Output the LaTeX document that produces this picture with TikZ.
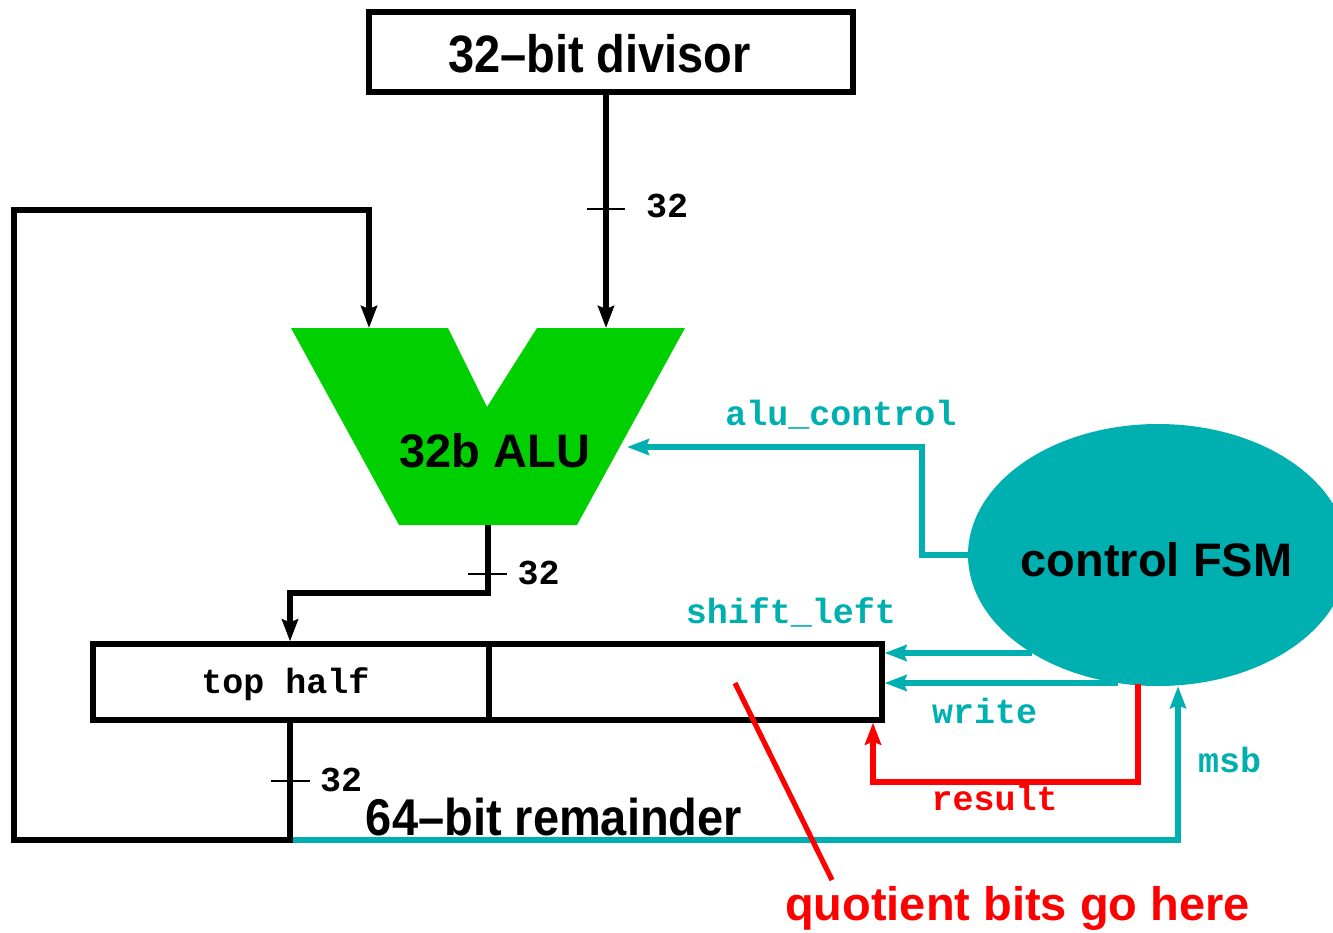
\documentclass[tikz,border=0pt]{standalone}
\usepackage{graphicx}
\usepackage{fontspec}
\setmainfont{Liberation Sans}
\setmonofont{Liberation Mono}
\usetikzlibrary{arrows.meta,shapes.geometric}
\definecolor{aluGreen}{RGB}{0,208,0}
\definecolor{fsmCyan}{RGB}{0,175,175}
\definecolor{qRed}{RGB}{255,0,0}
\begin{document}
\begin{tikzpicture}[x=1pt,y=-1pt,
  wire/.style={line width=5.2pt, line join=miter},
  arr/.style={-{Stealth[length=22pt,width=16pt,inset=3pt]}},
  tickmark/.style={line width=2.2pt},
  bigtxt/.style={font=\fontsize{47}{52}\selectfont\bfseries, inner sep=0pt, anchor=base},
  montxt/.style={font=\fontsize{35}{38}\selectfont\ttfamily\bfseries, inner sep=0pt, anchor=base},
  regbox/.style={draw, line width=5.2pt, minimum height=76, inner sep=0pt},
]
\useasboundingbox (0,0) rectangle (1333,932);
\clip (0,0) rectangle (1333,932);

% divisor
\node[draw, line width=5.2pt, minimum width=484, minimum height=80, inner sep=0pt] (div) at (611,52) {};
\node[bigtxt] (divt) at (599.5,72) {\scalebox{1}[1.12]{32–bit divisor}};

% ALU
\fill[aluGreen] (291,328) -- (448,328) -- (487,407) -- (537,328) -- (685,328) -- (577,525) -- (399,525) -- cycle;
\node[bigtxt] (alu) at (495,467) {32b ALU};
\coordinate (aluA) at (369,328);
\coordinate (aluB) at (606,328);
\coordinate (aluO) at (488,525);
\coordinate (aluC) at (627,447);

% register
\node[regbox, minimum width=396] (top) at (291,682) {};
\node[regbox, minimum width=393] (bot) at (685.5,682) {};
\node[montxt] (topt) at (285.5,693) {top half};

% FSM
\node[ellipse, fill=fsmCyan, minimum width=380, minimum height=262, inner sep=0pt] (fsm) at (1158,555) {};
\node[bigtxt] (fsmt) at (1156.5,576) {control FSM};

% coordinates
\coordinate (rq) at (290,840);
\coordinate (msbC) at (1178,840);
\coordinate (slS) at (1032,653);
\coordinate (wrS) at (1118,683);
\coordinate (rsS) at (1138,684);
\coordinate (rsC) at (873,782);
\coordinate (qA) at (735,683);
\coordinate (qB) at (832,880);

% cyan connections
\draw[wire, fsmCyan, arr] (rq) -- (msbC) -- (msbC |- fsm.south);
\draw[wire, fsmCyan, arr] (fsm.west) -- (922,555) -- (922,447) -- (aluC);
\draw[wire, fsmCyan, arr] (slS) -- (bot.east |- slS);
\draw[wire, fsmCyan, arr] (wrS) -- (bot.east |- wrS);

% red result
\draw[wire, qRed, arr] (rsS) -- (rsS |- rsC) -- (rsC) -- (rsC |- bot.south);

% black connections
\draw[wire, arr] (div.south -| aluB) -- (aluB);
\draw[tickmark] (587,209) -- (625,209);
\node[montxt] (n32a) at (667,217) {32};

\draw[wire, arr] (top.south -| rq) -- (rq) -- (14,840) -- (14,210) -- (369,210) -- (aluA);

\draw[wire, arr] (aluO) -- (488,593) -- (290,593) -- (top.north -| rq);
\draw[tickmark] (468,574) -- (507,574);
\node[montxt] (n32b) at (538.5,584) {32};

\draw[tickmark] (271,781) -- (310,781);
\node[montxt] (n32c) at (341,791) {32};

\node[bigtxt] (remt) at (554,835) {\scalebox{1}[1.1]{64–bit remainder}};

% labels
\node[montxt, text=fsmCyan] (lac) at (841,425) {alu\_control};
\node[montxt, text=fsmCyan] (lsl) at (791,623) {shift\_left};
\node[montxt, text=fsmCyan] (lwr) at (984.5,723) {write};
\node[montxt, text=fsmCyan] (lms) at (1229.5,772) {msb};
\node[montxt, text=qRed] (lrs) at (994.5,810) {result};

% quotient
\draw[wire, qRed] (qA) -- (qB);
\node[bigtxt, text=qRed] (qt) at (1017.5,920) {quotient bits go here};
\end{tikzpicture}
\end{document}
